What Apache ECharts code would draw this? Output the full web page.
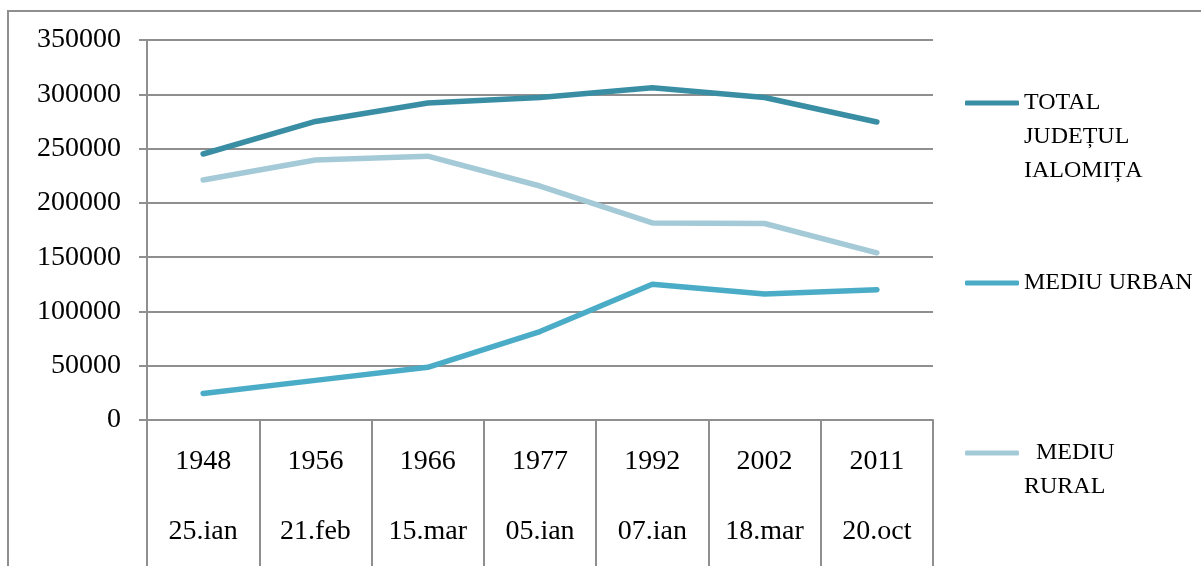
<!DOCTYPE html>
<html>
<head>
<meta charset="utf-8">
<script src="https://cdn.jsdelivr.net/npm/echarts@6/dist/echarts.min.js"></script>
<style>
  html, body { margin: 0; padding: 0; background: #fff; }
  #chart { width: 1201px; height: 566px; }
</style>
</head>
<body>
<div id="chart"></div>
<script>
// census years and dates
const years = ['1948', '1956', '1966', '1977', '1992', '2002', '2011']
const dates = ['25.ian', '21.feb', '15.mar', '05.ian', '07.ian', '18.mar', '20.oct']

// population
const totalJudet = [245000, 275000, 292000, 297000, 306000, 297000, 274500]
const mediuUrban = [24500, 36500, 48500, 81500, 125000, 116000, 120000]
const mediuRural = [221000, 239500, 243000, 215500, 181500, 181000, 154000]

const yTicks = { min: 0, max: 350000, interval: 50000 }

const gray = '#8f8f8f'
const font = 'Liberation Serif'
const fs = 28
const lh = 34

const chart = echarts.init(document.getElementById('chart'))

// one legend per item so each can sit where the picture has it;
// blank lines on top keep the icon level with the first text line
function legendFor (name, lines, iconY) {
    let n = lines.length
    let label = Array(n - 1).fill('').concat(lines).join('\n')
    return {
        orient: 'vertical',
        left: 965,
        top: iconY - ((2 * n - 1) * lh) / 2,
        padding: 0,
        icon: 'roundRect',
        itemWidth: 54,
        itemHeight: 5,
        data: [name],
        formatter: () => label,
        textStyle: {
            fontFamily: font,
            fontSize: 24,
            lineHeight: lh,
            color: '#000'
        }
    }
}

chart.setOption({
    animation: false,
    graphic: [{
        type: 'rect',
        shape: { x: 8, y: 11, width: 1400, height: 800 },
        style: { fill: 'none', stroke: gray, lineWidth: 2 },
        silent: true
    }],
    legend: [
        legendFor('TOTAL JUDEȚUL IALOMIȚA', ['TOTAL', 'JUDEȚUL', 'IALOMIȚA'], 103),
        legendFor('MEDIU URBAN', ['MEDIU URBAN'], 283),
        legendFor('MEDIU RURAL', ['  MEDIU', 'RURAL'], 453)
    ],
    grid: { left: 147, right: 268, top: 40, bottom: 146 },
    xAxis: {
        type: 'category',
        data: years.map((y, i) => y + '\n\n' + dates[i]),
        boundaryGap: true,
        axisLine: { show: true, lineStyle: { color: gray, width: 2 } },
        axisTick: { show: true, interval: 0, length: 150, lineStyle: { color: gray, width: 2 } },
        axisLabel: {
            interval: 0,
            margin: 24,
            color: '#000',
            fontFamily: font,
            fontSize: fs,
            lineHeight: 35
        }
    },
    yAxis: {
        type: 'value',
        min: yTicks.min,
        max: yTicks.max,
        interval: yTicks.interval,
        axisLine: { show: true, lineStyle: { color: gray, width: 2 } },
        axisTick: { show: true, length: 8, lineStyle: { color: gray, width: 2 } },
        splitLine: { show: true, lineStyle: { color: gray, width: 2 } },
        axisLabel: {
            margin: 26,
            color: '#000',
            fontFamily: font,
            fontSize: fs,
            formatter: v => String(v)
        }
    },
    series: [
        {
            name: 'TOTAL JUDEȚUL IALOMIȚA',
            type: 'line',
            data: totalJudet,
            symbol: 'none',
            color: '#3a8ea4',
            lineStyle: { width: 5.5, cap: 'round', join: 'round' }
        },
        {
            name: 'MEDIU URBAN',
            type: 'line',
            data: mediuUrban,
            symbol: 'none',
            color: '#4aacc6',
            lineStyle: { width: 5.5, cap: 'round', join: 'round' }
        },
        {
            name: 'MEDIU RURAL',
            type: 'line',
            data: mediuRural,
            symbol: 'none',
            color: '#a5cad7',
            lineStyle: { width: 5.5, cap: 'round', join: 'round' }
        }
    ]
})
</script>
</body>
</html>
